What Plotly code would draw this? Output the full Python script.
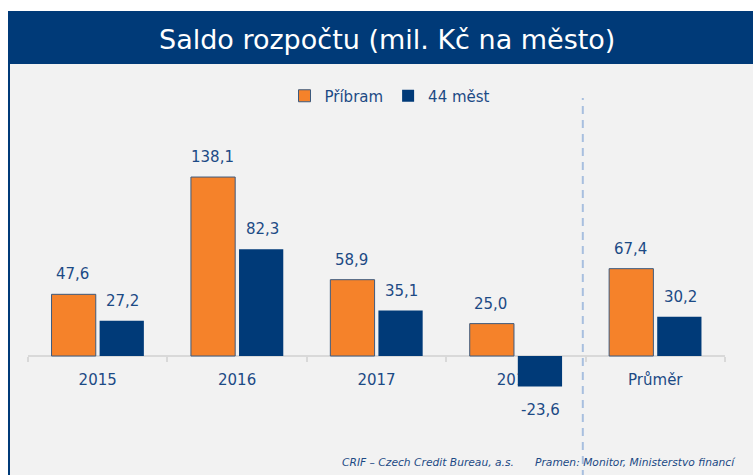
import plotly.graph_objects as go

categories = ["2015", "2016", "2017", "2018", "Průměr"]
pribram = [47.6, 138.1, 58.9, 25.0, 67.4]
mest44 = [27.2, 82.3, 35.1, -23.6, 30.2]
series_names = ["Příbram", "44 měst"]
title_text = "Saldo rozpočtu (mil. Kč na město)"
footer_left = "CRIF – Czech Credit Bureau, a.s."
footer_right = "Pramen: Monitor, Ministerstvo financí"

NAVY = "#003a78"
ORANGE = "#f5822a"
TXT = "#1c4a85"
PANEL = "#f2f2f2"

W, H = 753, 475
ML, MR, MT, MB = 28, 28, 70, 5
PW = W - ML - MR
PH = H - MT - MB

ymin, ymax = -87.96, 220.7


def px_x(px):
    return (px - ML) / PW


def px_y(py):
    return (H - MB - py) / PH


def fmt(v):
    return f"{v:.1f}".replace(".", ",")


fig = go.Figure()
fig.add_trace(go.Bar(
    x=categories, y=pribram, name=series_names[0],
    marker=dict(color=ORANGE, line=dict(color="#3d5a7e", width=1)),
))
fig.add_trace(go.Bar(
    x=categories, y=mest44, name=series_names[1],
    marker=dict(color=NAVY, line=dict(width=0)),
))

annotations = []
for series, shift in ((pribram, -25), (mest44, 25)):
    for i, v in enumerate(series):
        annotations.append(dict(
            x=i, y=v, xref="x", yref="y", text=fmt(v), showarrow=False,
            xshift=shift, yshift=20 if v >= 0 else -23, yanchor="middle",
            font=dict(family="DejaVu Sans", size=15, color=TXT),
        ))

annotations.append(dict(
    x=px_x(386.5), y=px_y(39), xref="paper", yref="paper", text=title_text,
    showarrow=False, xanchor="center", yanchor="middle",
    font=dict(family="DejaVu Sans", size=27, color="white"),
))
annotations.append(dict(
    x=px_x(340), y=px_y(462), xref="paper", yref="paper", text=f"<i>{footer_left}</i>",
    showarrow=False, xanchor="left", yanchor="middle",
    font=dict(family="DejaVu Sans", size=10.7, color=TXT),
))
annotations.append(dict(
    x=px_x(533), y=px_y(462), xref="paper", yref="paper", text=f"<i>{footer_right}</i>",
    showarrow=False, xanchor="left", yanchor="middle",
    font=dict(family="DejaVu Sans", size=10.7, color=TXT),
))

shapes = [
    dict(type="rect", xref="paper", yref="paper", x0=px_x(10), x1=px_x(760),
         y0=px_y(480), y1=px_y(64), fillcolor=PANEL, line=dict(width=0), layer="below"),
    dict(type="rect", xref="paper", yref="paper", x0=px_x(8), x1=px_x(760),
         y0=px_y(64), y1=px_y(11), fillcolor=NAVY, line=dict(width=0), layer="below"),
    dict(type="rect", xref="paper", yref="paper", x0=px_x(8), x1=px_x(10),
         y0=px_y(480), y1=px_y(64), fillcolor=NAVY, line=dict(width=0), layer="below"),
    dict(type="line", xref="x", yref="paper", x0=3.48, x1=3.48,
         y0=px_y(478), y1=px_y(98), line=dict(color="#a8bfdf", width=2, dash="8px,6px"),
         layer="below"),
]

fig.update_layout(
    width=W, height=H,
    margin=dict(l=ML, r=MR, t=MT, b=MB),
    paper_bgcolor="white", plot_bgcolor="rgba(0,0,0,0)",
    barmode="group", bargap=0.31, bargroupgap=0.08,
    showlegend=True,
    legend=dict(orientation="h", x=px_x(390), y=px_y(96), xanchor="center", yanchor="middle",
                font=dict(family="DejaVu Sans", size=15, color=TXT),
                bgcolor="rgba(0,0,0,0)", itemwidth=30, traceorder="normal"),
    xaxis=dict(
        type="category", range=[-0.5, 4.5], anchor="free",
        position=(0 - ymin) / (ymax - ymin),
        showline=True, linecolor="#d9d9d9", linewidth=2,
        ticks="outside", ticklen=5, tickcolor="#d9d9d9", tickwidth=2,
        tickson="boundaries", showgrid=False, layer="below traces",
        ticklabelstandoff=10,
        tickfont=dict(family="DejaVu Sans", size=15, color=TXT),
        fixedrange=True,
    ),
    yaxis=dict(range=[ymin, ymax], visible=False, showgrid=False, zeroline=False,
               fixedrange=True),
    annotations=annotations,
    shapes=shapes,
)

fig.write_html(
    "out.html",
    config={"displayModeBar": False},
    post_script="document.body.style.margin='0';document.body.style.overflow='hidden';",
)
